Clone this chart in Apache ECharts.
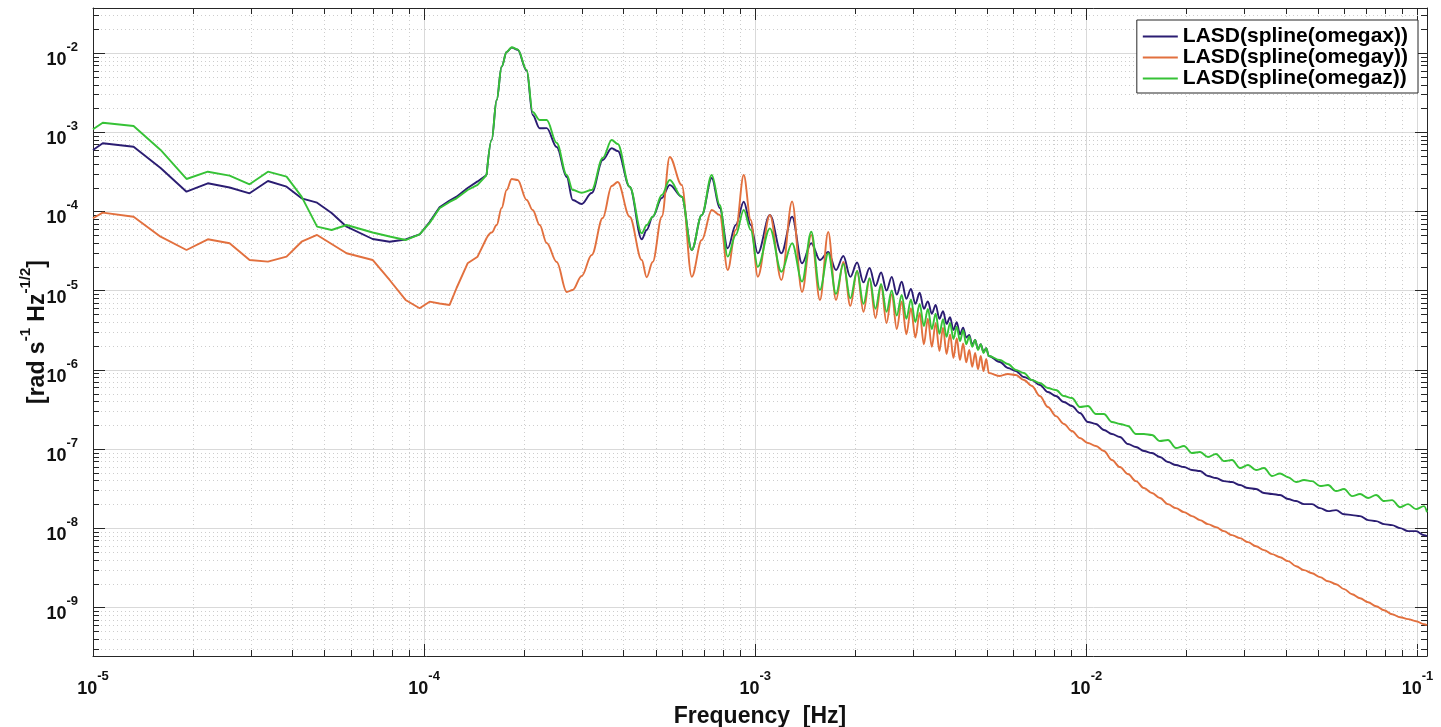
<!DOCTYPE html>
<html><head><meta charset="utf-8">
<script src="https://cdn.jsdelivr.net/npm/echarts@6/dist/echarts.min.js"></script>
<style>html,body{margin:0;padding:0;background:#fff}#c{width:1441px;height:727px}</style>
</head><body><div id="c"></div>
<script>
// Frequency grid [Hz]
const freq = [
1.0e-5,1.07e-5,1.326e-5,1.6e-5,1.916e-5,2.222e-5,2.585e-5,2.971e-5,3.375e-5,3.842e-5,4.265e-5,4.75e-5,5.255e-5,5.832e-5,6.99e-5,7.865e-5,8.79e-5,9.69e-5,1.039e-4,1.113e-4,1.194e-4,1.253e-4,1.353e-4,1.45e-4,1.544e-4,
1.599e-4,1.656e-4,1.714e-4,1.775e-4,1.838e-4,1.916e-4,2.04e-4,2.127e-4,2.233e-4,2.345e-4,2.514e-4,2.695e-4,2.81e-4,2.99e-4,3.207e-4,3.462e-4,3.685e-4,3.843e-4,4.175e-4,4.541e-4,4.70e-4,4.90e-4,5.22e-4,5.516e-4,5.996e-4,6.43e-4,6.893e-4,7.389e-4,7.81e-4,8.257e-4,8.73e-4,9.23e-4,9.69e-4,1.0177e-3,
1.107e-3,1.199e-3,1.292e-3,1.384e-3,1.476e-3,1.568e-3,1.661e-3,1.753e-3,1.845e-3,1.937e-3,2.03e-3,2.122e-3,2.214e-3,2.306e-3,2.399e-3,2.491e-3,2.583e-3,2.675e-3,2.768e-3,2.86e-3,2.952e-3,3.044e-3,3.137e-3,3.229e-3,3.321e-3,3.413e-3,3.506e-3,3.598e-3,3.69e-3,3.782e-3,3.875e-3,3.967e-3,4.059e-3,4.151e-3,4.244e-3,4.336e-3,4.428e-3,4.52e-3,4.613e-3,4.705e-3,4.797e-3,4.889e-3,4.982e-3,5.074e-3,
5.478e-3,5.791e-3,6.123e-3,6.473e-3,6.844e-3,7.236e-3,7.65e-3,8.088e-3,8.551e-3,9.04e-3,9.558e-3,1.0105e-2,1.0683e-2,1.1295e-2,1.1942e-2,1.2625e-2,1.3348e-2,1.4112e-2,1.492e-2,1.5774e-2,1.6677e-2,1.7632e-2,1.8641e-2,1.9708e-2,2.0836e-2,2.2029e-2,2.329e-2,2.4623e-2,2.6033e-2,2.7523e-2,2.9098e-2,3.0764e-2,3.2525e-2,3.4387e-2,3.6355e-2,3.8436e-2,4.0636e-2,4.2963e-2,4.5422e-2,4.8022e-2,5.0771e-2,5.3677e-2,5.675e-2,6.0e-2,6.343e-2,6.706e-2,7.09e-2,7.496e-2,7.925e-2,8.375e-2,8.857e-2,9.363e-2,9.897e-2,1.0464e-1,1.068e-1
];
// LASD(spline(omegax))
const omegaX = [
5.96e-4,7.24e-4,6.56e-4,3.53e-4,1.772e-4,2.263e-4,2.003e-4,1.692e-4,2.42e-4,2.05e-4,1.463e-4,1.288e-4,9.55e-5,6.41e-5,4.48e-5,4.14e-5,4.42e-5,5.11e-5,7.35e-5,1.126e-4,1.373e-4,1.533e-4,1.974e-4,2.39e-4,2.88e-4,
7.97e-4,2.55e-3,6.71e-3,1.03e-2,1.17e-2,1.1e-2,6.0e-3,1.649e-3,1.12e-3,1.125e-3,6.5e-4,2.717e-4,1.393e-4,1.24e-4,1.707e-4,4.46e-4,6.26e-4,5.79e-4,2.05e-4,4.44e-5,5.82e-5,8.57e-5,1.476e-4,2.154e-4,1.533e-4,3.255e-5,9.0e-5,2.64e-4,1.104e-4,3.42e-5,6.73e-5,1.326e-4,6.73e-5,2.958e-5,
9.0e-5,2.96e-5,8.57e-5,2.21e-5,3.96e-5,2.43e-5,3.07e-5,1.82e-5,2.73e-5,1.49e-5,2.26e-5,1.27e-5,1.93e-5,1.14e-5,1.69e-5,1.0e-5,1.49e-5,8.9e-6,1.29e-5,7.9e-6,1.05e-5,6.8e-6,9.4e-6,5.9e-6,7.3e-6,5.1e-6,6.6e-6,4.4e-6,5.5e-6,3.8e-6,4.6e-6,3.18e-6,4.0e-6,2.8e-6,3.4e-6,2.55e-6,2.75e-6,2.06e-6,2.38e-6,1.82e-6,2.1e-6,1.68e-6,1.87e-6,1.49e-6,
1.254e-6,1.053e-6,9.65e-7,8.1e-7,7.43e-7,6.42e-7,5.24e-7,4.66e-7,3.92e-7,3.49e-7,2.84e-7,2.19e-7,2.07e-7,1.734e-7,1.543e-7,1.414e-7,1.154e-7,1.058e-7,9.41e-8,8.88e-8,7.91e-8,6.83e-8,6.26e-8,5.91e-8,5.42e-8,5.26e-8,4.55e-8,4.29e-8,3.93e-8,3.82e-8,3.5e-8,3.21e-8,3.12e-8,2.78e-8,2.7e-8,2.62e-8,2.33e-8,2.2e-8,2.01e-8,2.01e-8,1.79e-8,1.64e-8,1.69e-8,1.5e-8,1.461e-8,1.419e-8,1.263e-8,1.227e-8,1.124e-8,1.092e-8,1.0e-8,9.17e-9,9.17e-9,8.16e-9,7.93e-9
];
// LASD(spline(omegay))
const omegaY = [
8.18e-5,9.63e-5,8.57e-5,4.79e-5,3.255e-5,4.44e-5,3.96e-5,2.434e-5,2.317e-5,2.68e-5,4.14e-5,5.04e-5,3.88e-5,2.958e-5,2.434e-5,1.361e-5,7.61e-6,5.98e-6,7.24e-6,6.87e-6,6.58e-6,1.078e-5,2.212e-5,2.68e-5,4.61e-5,
5.4e-5,6.73e-5,1.104e-4,1.863e-4,2.565e-4,2.491e-4,1.393e-4,1.04e-4,6.73e-5,3.99e-5,2.297e-5,9.6e-6,1.018e-5,1.528e-5,2.815e-5,8.25e-5,2.093e-4,2.35e-4,8.57e-5,2.434e-5,1.471e-5,2.297e-5,8.57e-5,4.86e-4,2.154e-4,1.497e-5,4.35e-5,1.04e-4,9.0e-5,1.82e-5,5.82e-5,2.88e-4,7.79e-5,1.497e-5,
9.0e-5,1.36e-5,1.33e-4,9.6e-6,5.04e-5,7.6e-6,5.49e-5,7.6e-6,2.3e-5,6.4e-6,1.77e-5,5.4e-6,1.4e-5,4.5e-6,1.15e-5,3.9e-6,9.0e-6,3.27e-6,7.3e-6,2.8e-6,6.0e-6,2.55e-6,5.2e-6,2.1e-6,4.4e-6,1.95e-6,3.9e-6,1.72e-6,3.4e-6,1.58e-6,2.8e-6,1.41e-6,2.5e-6,1.33e-6,2.15e-6,1.24e-6,1.78e-6,1.09e-6,1.63e-6,1.02e-6,1.49e-6,9.6e-7,1.37e-6,9.1e-7,
8.34e-7,8.85e-7,8.59e-7,7.43e-7,6.24e-7,4.66e-7,3.39e-7,2.6e-7,2.07e-7,1.684e-7,1.374e-7,1.188e-7,1.089e-7,9.41e-8,7.24e-8,5.91e-8,4.82e-8,3.93e-8,3.21e-8,2.78e-8,2.4e-8,2.01e-8,1.79e-8,1.594e-8,1.419e-8,1.263e-8,1.124e-8,1.03e-8,9.17e-9,8.16e-9,7.48e-9,6.66e-9,5.92e-9,5.28e-9,4.7e-9,4.3e-9,3.83e-9,3.31e-9,2.95e-9,2.7e-9,2.41e-9,2.14e-9,1.96e-9,1.7e-9,1.466e-9,1.305e-9,1.161e-9,1.034e-9,9.2e-10,8.19e-10,7.51e-10,7.09e-10,6.68e-10,6.12e-10,5.95e-10
];
// LASD(spline(omegaz))
const omegaZ = [
1.088e-3,1.318e-3,1.197e-3,5.96e-4,2.565e-4,3.17e-4,2.824e-4,2.199e-4,3.17e-4,2.742e-4,1.533e-4,6.41e-5,5.82e-5,6.73e-5,5.41e-5,4.82e-5,4.35e-5,5.11e-5,7.14e-5,1.094e-4,1.315e-4,1.463e-4,1.863e-4,2.16e-4,2.88e-4,
7.97e-4,2.55e-3,6.71e-3,1.03e-2,1.18e-2,1.11e-2,6.1e-3,1.8e-3,1.426e-3,1.426e-3,7.31e-4,2.88e-4,1.863e-4,1.722e-4,1.863e-4,4.72e-4,7.97e-4,7.1e-4,2.05e-4,5.29e-5,6.73e-5,8.57e-5,1.611e-4,2.491e-4,1.533e-4,3.255e-5,9.0e-5,2.88e-4,1.204e-4,2.68e-5,5.04e-5,1.04e-4,5.82e-5,2.0e-5,
6.11e-5,1.73e-5,3.96e-5,1.3e-5,5.54e-5,1.02e-5,2.96e-5,9.1e-6,2.17e-5,8.0e-6,1.77e-5,6.8e-6,1.43e-5,5.9e-6,1.21e-5,5.4e-6,1.0e-5,4.85e-6,8.8e-6,4.4e-6,7.7e-6,4.0e-6,6.8e-6,3.56e-6,5.85e-6,3.27e-6,5.1e-6,2.85e-6,4.35e-6,2.6e-6,3.9e-6,2.45e-6,3.5e-6,2.3e-6,3.15e-6,2.1e-6,2.64e-6,1.95e-6,2.38e-6,1.78e-6,2.1e-6,1.63e-6,1.87e-6,1.49e-6,
1.329e-6,1.183e-6,9.94e-7,9.11e-7,7.43e-7,6.81e-7,5.88e-7,5.55e-7,4.66e-7,4.4e-7,3.39e-7,3.49e-7,2.76e-7,2.76e-7,2.19e-7,2.07e-7,1.95e-7,1.543e-7,1.543e-7,1.499e-7,1.259e-7,1.296e-7,1.027e-7,1.089e-7,8.88e-8,9.14e-8,7.91e-8,8.63e-8,7.03e-8,7.24e-8,5.74e-8,6.26e-8,5.42e-8,5.74e-8,4.55e-8,4.9e-8,4.4e-8,3.82e-8,4.05e-8,3.93e-8,3.4e-8,3.5e-8,2.94e-8,3.12e-8,2.54e-8,2.7e-8,2.4e-8,2.62e-8,2.2e-8,2.26e-8,1.84e-8,2.01e-8,1.74e-8,1.9e-8,1.594e-8
];
const seriesNames = ['LASD(spline(omegax))', 'LASD(spline(omegay))', 'LASD(spline(omegaz))'];
const seriesColors = ['#2b1d72', '#e2703e', '#36c236'];
const xTitle = 'Frequency  [Hz]';
const yTitle = '{n|[rad s}{s|-1}{n| Hz}{s|-1/2}{n|]}';
const xDecades = [-5, -4, -3, -2, -1];
const yDecades = [-10, -9, -8, -7, -6, -5, -4, -3, -2];
const minorMult = [2, 3, 4, 5, 6, 7, 8, 9];
const xMin = 1e-5, xMax = 0.1068, yMin = 2.43e-10, yMax = 3.7e-2;
const SPLIT = 24; // index where the spline-smoothed part starts

const FONT = '"Liberation Sans", Arial, Helvetica, sans-serif';
const INK = '#262626';

function minorList(decades, lo, hi) {
  const out = [];
  decades.forEach(d => minorMult.forEach(m => {
    const v = m * Math.pow(10, d);
    if (v > lo && v < hi) out.push(v);
  }));
  return out;
}
const xMinor = minorList(xDecades, xMin, xMax);
const yMinor = minorList(yDecades, yMin, yMax);

function expLabel(v) {
  const e = Math.log10(v), r = Math.round(e);
  if (Math.abs(e - r) > 1e-6) return '';
  return '{b|10}{s|' + r + '}';
}
const labelRich = {
  b: { fontSize: 18, fontWeight: 'bold', fontFamily: FONT, color: '#111', lineHeight: 28, verticalAlign: 'bottom' },
  s: { fontSize: 13, fontWeight: 'bold', fontFamily: FONT, color: '#111', lineHeight: 12, verticalAlign: 'top' }
};

const MINOR_GRID = { stroke: '#cdcdcd', lineWidth: 1, lineDash: [1, 3] };
const TICK = { stroke: INK, lineWidth: 1 };

function renderXMinor(params, api) {
  const cs = params.coordSys;
  const x = Math.round(api.coord([api.value(0), 1e-5])[0]) + 0.5;
  const y0 = cs.y, y1 = cs.y + cs.height;
  return { type: 'group', children: [
    { type: 'line', shape: { x1: x, y1: y0, x2: x, y2: y1 }, style: MINOR_GRID },
    { type: 'line', shape: { x1: x, y1: y1, x2: x, y2: y1 - 6 }, style: TICK },
    { type: 'line', shape: { x1: x, y1: y0, x2: x, y2: y0 + 6 }, style: TICK }
  ]};
}
function renderYMinor(params, api) {
  const cs = params.coordSys;
  const y = Math.round(api.coord([1e-3, api.value(1)])[1]) + 0.5;
  const x0 = cs.x, x1 = cs.x + cs.width;
  return { type: 'group', children: [
    { type: 'line', shape: { x1: x0, y1: y, x2: x1, y2: y }, style: MINOR_GRID },
    { type: 'line', shape: { x1: x0, y1: y, x2: x0 + 6, y2: y }, style: TICK },
    { type: 'line', shape: { x1: x1, y1: y, x2: x1 - 6, y2: y }, style: TICK }
  ]};
}

function axisBase(extra) {
  return Object.assign({
    type: 'log', logBase: 10,
    axisLine: { show: true, onZero: false, lineStyle: { color: INK, width: 1 } },
    axisTick: { show: true, inside: true, length: 12, lineStyle: { color: INK, width: 1 } },
    splitLine: { show: false },
    minorTick: { show: false }, minorSplitLine: { show: false }
  }, extra);
}

const seriesData = [omegaX, omegaY, omegaZ];
const lineSeries = [];
seriesNames.forEach((n, i) => {
  const pts = freq.map((f, k) => [f, seriesData[i][k]]);
  const common = {
    type: 'line', name: n, xAxisIndex: 0, yAxisIndex: 0, z: 3 + i,
    showSymbol: false, symbol: 'none',
    lineStyle: { color: seriesColors[i], width: 1.9 },
    itemStyle: { color: seriesColors[i] }
  };
  lineSeries.push(Object.assign({}, common, { smooth: false, data: pts.slice(0, SPLIT + 1) }));
  lineSeries.push(Object.assign({}, common, { smooth: 0.35, smoothMonotone: 'x', data: pts.slice(SPLIT) }));
});

const chart = echarts.init(document.getElementById('c'), null, { renderer: 'canvas' });
chart.setOption({
  animation: false,
  backgroundColor: '#ffffff',
  grid: { left: 93, right: 14, top: 8, bottom: 71, containLabel: false, outerBoundsMode: 'none' },
  xAxis: [
    axisBase({
      min: xMin, max: xMax, position: 'bottom',
      splitLine: { show: true, lineStyle: { color: '#d9d9d9', width: 1 } },
      axisLabel: { show: true, margin: 14, formatter: expLabel, rich: labelRich, showMinLabel: true, showMaxLabel: true },
      name: xTitle, nameLocation: 'middle', nameGap: 49, nameMoveOverlap: false,
      nameTextStyle: { fontSize: 23, fontWeight: 'bold', fontFamily: FONT, color: '#111' }
    }),
    axisBase({ min: xMin, max: xMax, position: 'top', axisLabel: { show: false } })
  ],
  yAxis: [
    axisBase({
      min: yMin, max: yMax, position: 'left',
      splitLine: { show: true, lineStyle: { color: '#d9d9d9', width: 1 } },
      axisLabel: { show: true, margin: 15, formatter: expLabel, rich: labelRich, padding: [4, 0, 0, 0] },
      name: yTitle, nameLocation: 'middle', nameGap: 44, nameRotate: 90, nameMoveOverlap: false,
      nameTextStyle: {
        fontFamily: FONT, color: '#111',
        rich: {
          n: { fontSize: 23, fontWeight: 'bold', fontFamily: FONT, color: '#111', lineHeight: 31, verticalAlign: 'bottom' },
          s: { fontSize: 15, fontWeight: 'bold', fontFamily: FONT, color: '#111', lineHeight: 14, verticalAlign: 'top' }
        }
      }
    }),
    axisBase({ min: yMin, max: yMax, position: 'right', axisLabel: { show: false } })
  ],
  legend: {
    data: seriesNames, orient: 'vertical', right: 23, top: 20,
    icon: 'rect', itemWidth: 35, itemHeight: 2, itemGap: 0,
    backgroundColor: '#ffffff', borderColor: INK, borderWidth: 1, borderRadius: 0,
    padding: [6, 10, 4, 6],
    textStyle: { fontSize: 21, lineHeight: 21, fontWeight: 'bold', fontFamily: FONT, color: '#000' },
    selectedMode: false
  },
  series: [
    { type: 'custom', name: 'xminor', silent: true, z: 1, xAxisIndex: 0, yAxisIndex: 0,
      renderItem: renderXMinor, data: xMinor.map(v => [v, 1e-5]) },
    { type: 'custom', name: 'yminor', silent: true, z: 1, xAxisIndex: 0, yAxisIndex: 0,
      renderItem: renderYMinor, data: yMinor.map(v => [1e-3, v]) }
  ].concat(lineSeries)
});
</script>
</body></html>
